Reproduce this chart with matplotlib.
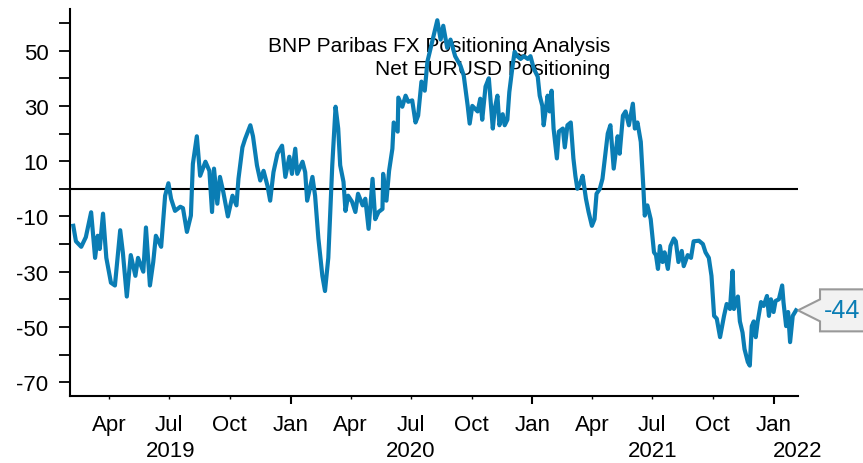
import matplotlib
matplotlib.use("Agg")
import matplotlib.pyplot as plt
import matplotlib.dates as mdates
from matplotlib.patches import Polygon
from matplotlib.transforms import blended_transform_factory, IdentityTransform
import numpy as np
import pandas as pd

plt.rcParams['font.family'] = ['Liberation Sans', 'DejaVu Sans']
plt.rcParams['axes.unicode_minus'] = False

# net EURUSD positioning
start = pd.Timestamp('2019-02-01')
days_since_start = [
    5, 9, 17, 24, 32, 38, 42, 45, 50, 55, 62, 68, 76, 80, 86, 92, 99, 103, 111, 115,
    121, 126, 130, 138, 144, 149, 153, 159, 167, 171, 177, 183, 186, 192, 197, 205, 211, 215, 218, 223,
    227, 232, 239, 246, 252, 255, 261, 265, 273, 277, 283, 288, 293, 299, 303, 308, 314, 321, 326, 332,
    336, 341, 344, 352, 356, 359, 367, 371, 376, 382, 386, 391, 397, 402, 406, 409, 414, 417, 421, 427,
    432, 436, 443, 447, 452, 458, 462, 467, 473, 474, 479, 483, 488, 490, 496, 497, 503, 508, 512, 518,
    523, 527, 532, 537, 541, 547, 552, 556, 561, 565, 571, 576, 583, 591, 596, 602, 605, 609, 617, 621,
    624, 629, 634, 640, 643, 647, 650, 655, 658, 662, 665, 670, 673, 677, 682, 687, 693, 697, 702, 708,
    711, 715, 717, 723, 726, 729, 732, 737, 740, 746, 749, 753, 758, 762, 765, 768, 773, 776, 781, 785,
    790, 794, 797, 802, 806, 809, 814, 818, 823, 829, 832, 837, 841, 846, 852, 855, 859, 864, 868, 870,
    874, 879, 884, 887, 890, 893, 897, 900, 905, 909, 914, 917, 921, 926, 929, 935, 940, 944, 952, 958,
    962, 967, 971, 975, 979, 984, 990, 994, 999, 1003, 1005, 1011, 1014, 1018, 1021, 1026, 1029, 1032, 1035, 1038,
    1041, 1046, 1050, 1055, 1058, 1061, 1065, 1068, 1073, 1078, 1080, 1084, 1087, 1090, 1094, 1099,
]
positioning = [
    -13.4, -19, -21, -17.5, -8.5, -25, -17, -21.8, -9, -25, -34, -35, -15, -23, -39, -24, -31.5, -25, -30, -14,
    -35, -26.5, -17, -21, -2.5, 2, -3.6, -8, -6.5, -7, -15.6, -9.7, 9, 19, 4.7, 9.8, 6.5, -8.4, 7.3, -5.4,
    4.3, -1.1, -10, -2.5, -6, 3.6, 15, 18, 23, 19, 8.5, 3, 6.5, 1, -4.3, 6, 12.7, 15.6, 4.3, 11.6,
    5.4, 14.5, 5.4, 9.8, 6, -4.3, 4.3, -2.5, -18, -31.5, -37, -25, 8.5, 29.7, 21.8, 8.5, 2.5, -8, -2.5, -4.7,
    -8.4, -1.8, -6, -3.6, -14.5, 3.6, -11, -8.4, -7.3, 5.4, -4.3, 6.5, 14.5, 24, 20.7, 33, 29.7, 33.7, 31.5, 32,
    24, 26.5, 38.8, 35.5, 46, 52, 57, 61, 54, 59, 51, 54, 48, 44.6, 41, 30, 23.6, 30, 28, 32.6,
    25, 37, 40, 21.8, 29, 33.7, 23, 27, 23, 25, 35, 44.6, 49.6, 48, 47, 48, 47, 48, 43.5, 40.6,
    33.7, 30, 23, 33.7, 28, 35.5, 21.8, 11, 20.7, 21.8, 15, 23, 24, 11, 4.7, 0, 2.5, 4.7, -3.6, -8.4,
    -13.4, -11, -1.8, 0, 3.6, 9.8, 20, 23, 7.3, 19, 12.7, 26.5, 28, 23, 30.8, 21.8, 24, 17, 0, -9.7,
    -6, -11, -23, -24, -29, -20.7, -26.5, -23, -29, -20.7, -18, -19, -26.5, -22.5, -28, -24, -25, -19, -18.8, -20,
    -23, -25, -31.5, -46, -47, -53.7, -46, -41.7, -43.5, -29.7, -43.5, -39, -48, -52, -58, -62.7, -64, -49.7, -48, -53.7,
    -48, -41, -42.4, -38.8, -46, -40, -44.6, -40.6, -40, -35, -41, -49.7, -44.6, -55.5, -46, -44,
]
dates = start + pd.to_timedelta(days_since_start, unit='D')

title_lines = ['BNP Paribas FX Positioning Analysis', 'Net EURUSD Positioning']
year_labels = ['2019', '2020', '2021', '2022']
year_label_dates = pd.to_datetime(['2019-07-03', '2020-07-01', '2021-07-02', '2022-02-06'])

line_color = '#0a7db4'

fig = plt.figure(figsize=(8.63, 4.64), dpi=100)
ax = fig.add_axes([0.0811, 0.1444, 0.8436, 0.8336])

ax.axhline(0, color='black', lw=1.5, zorder=2)
ax.plot(dates, positioning, color=line_color, lw=3.0, zorder=3, solid_joinstyle='round')

ax.set_xlim(pd.Timestamp('2019-02-01'), pd.Timestamp('2022-02-07'))
ax.set_ylim(-75, 65)

for s in ['top', 'right']:
    ax.spines[s].set_visible(False)
for s in ['left', 'bottom']:
    ax.spines[s].set_linewidth(1.5)

ax.set_yticks(np.arange(-70, 51, 20))
ax.set_yticks(np.arange(-60, 61, 20), minor=True)
ax.tick_params(axis='y', which='both', length=8, width=1.3, pad=7.5, labelsize=16)

ax.xaxis.set_major_locator(mdates.MonthLocator(bymonth=[1]))
ax.xaxis.set_minor_locator(mdates.MonthLocator(bymonth=[4, 7, 10]))
ax.xaxis.set_major_formatter(mdates.DateFormatter('%b'))
ax.xaxis.set_minor_formatter(mdates.DateFormatter('%b'))
ax.tick_params(axis='x', which='major', length=5.5, width=1.5, pad=7.5, labelsize=16)
ax.tick_params(axis='x', which='minor', length=2.5, width=1.0, pad=10.5, labelsize=16)

trans = blended_transform_factory(ax.transData, ax.transAxes)
for d, lab in zip(year_label_dates, year_labels):
    ax.text(d, -0.14, lab, transform=trans, ha='center', va='center', fontsize=16)

ax.text(0.742, 0.877, '\n'.join(title_lines), transform=ax.transAxes,
        ha='right', va='center', multialignment='right', fontsize=15,
        linespacing=1.25, zorder=1)

# last-value callout on the right edge
fig.canvas.draw()
last = positioning[-1]
tip_x = ax.transAxes.transform((1.0, 0))[0]
tip_y = ax.transData.transform((mdates.date2num(dates[-1]), last))[1]
bx0, bx1 = tip_x + 22, tip_x + 90
verts = [(tip_x, tip_y), (bx0, tip_y + 11), (bx0, tip_y + 21), (bx1, tip_y + 21),
         (bx1, tip_y - 21), (bx0, tip_y - 21), (bx0, tip_y - 11)]
box = Polygon(verts, closed=True, transform=IdentityTransform(), facecolor='#f2f2f2',
              edgecolor='#999999', lw=1.5, clip_on=False)
fig.patches.append(box)
fig.text(bx0 + 4, tip_y, '%d' % round(last), transform=IdentityTransform(),
         ha='left', va='center', color=line_color, fontsize=18)

fig.savefig('out.png', dpi=100)
